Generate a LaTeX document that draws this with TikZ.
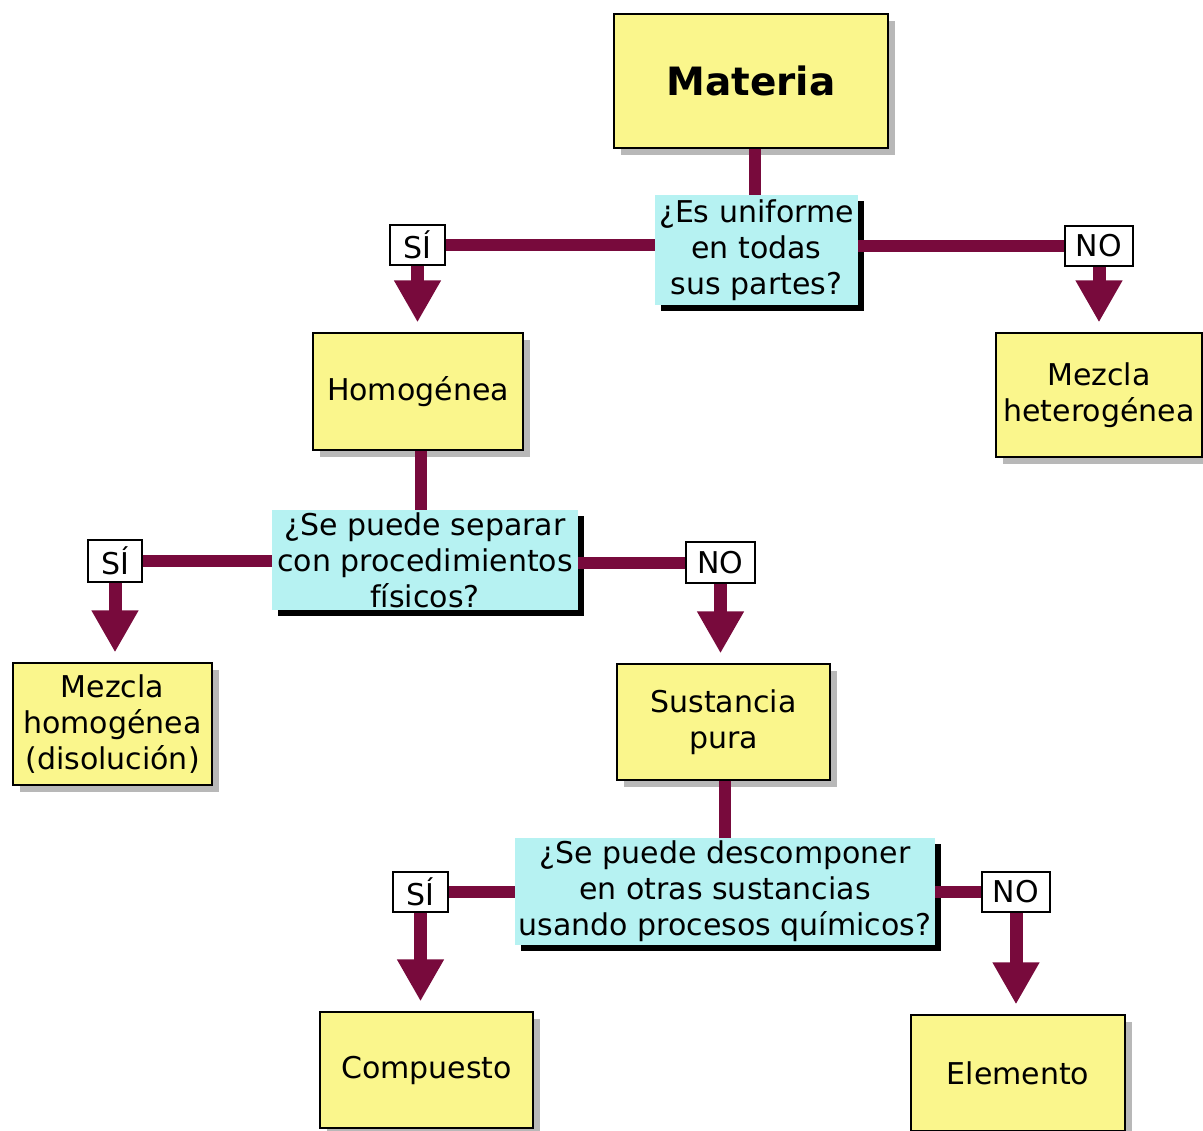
\documentclass[tikz,border=0pt]{standalone}
\usepackage{fontspec}
\setmainfont{DejaVu Sans}
\usetikzlibrary{arrows.meta,shadows}
\definecolor{boxyellow}{RGB}{250,246,140}
\definecolor{qcyan}{RGB}{182,242,242}
\definecolor{linkred}{RGB}{120,10,60}
\begin{document}
\begin{tikzpicture}[x=1pt,y=-1pt,
  ybox/.style={draw=black, line width=1.2pt, fill=boxyellow, align=center,
    inner sep=0pt, font=\fontsize{30}{36}\selectfont,
    drop shadow={shadow xshift=7pt, shadow yshift=-7pt, fill=black!35, opacity=0.8}},
  qbox/.style={fill=qcyan, align=center, inner sep=0pt,
    font=\fontsize{30}{36}\selectfont,
    drop shadow={shadow xshift=6pt, shadow yshift=-6pt, fill=black, opacity=1}},
  ansbox/.style={draw=black, line width=1.2pt, fill=white, inner sep=0pt,
    minimum height=40pt, font=\fontsize{30}{34}\selectfont},
  link/.style={draw=linkred, line width=12pt},
  downarrow/.style={draw=linkred, line width=13pt,
    -{Triangle[width=44pt,length=42pt]}, shorten >=10pt}
]
\useasboundingbox (0,0) rectangle (1203,1131);

% yellow boxes
\node[ybox, minimum width=274pt, minimum height=134pt, font=\fontsize{39}{44}\selectfont\bfseries] (mat) at (751,81) {Materia};
\node[ybox, minimum width=210pt, minimum height=117pt] (hom) at (418,391.5) {Homogénea};
\node[ybox, minimum width=206pt, minimum height=124pt] (het) at (1099,395) {Mezcla\\heterogénea};
\node[ybox, minimum width=199pt, minimum height=122pt] (mhom) at (112.5,724) {Mezcla\\homogénea\\(disolución)};
\node[ybox, minimum width=213pt, minimum height=116pt] (sus) at (723.5,722) {Sustancia\\pura};
\node[ybox, minimum width=213pt, minimum height=116pt] (comp) at (426.5,1070) {Compuesto};
\node[ybox, minimum width=214pt, minimum height=116pt] (elem) at (1018,1073) {Elemento};

% question boxes
\node[qbox, minimum width=203pt, minimum height=110pt] (q1) at (756.5,250) {¿Es uniforme\\en todas\\sus partes?};
\node[qbox, minimum width=306pt, minimum height=100pt] (q2) at (425,560) {¿Se puede separar\\con procedimientos\\físicos?};
\node[qbox, minimum width=420pt, minimum height=107pt] (q3) at (725,891.5) {¿Se puede descomponer\\en otras sustancias\\usando procesos químicos?};

% answer boxes
\node[ansbox, minimum width=55pt] (si1) at (417.5,245) {SÍ};
\node[ansbox, minimum width=68pt] (no1) at (1099,246) {NO};
\node[ansbox, minimum width=54pt, minimum height=42pt] (si2) at (115,561) {SÍ};
\node[ansbox, minimum width=69pt, minimum height=41pt] (no2) at (720.5,562.5) {NO};
\node[ansbox, minimum width=55pt] (si3) at (420.5,892) {SÍ};
\node[ansbox, minimum width=68pt] (no3) at (1016,892) {NO};

% connectors
\draw[link] (mat.south -| 755,0) -- (755,0 |- q1.north);
\draw[link] (si1.east) -- (si1.east -| q1.west);
\draw[link] (no1.west) -- (no1.west -| q1.east);
\draw[downarrow] (si1.south) -- (si1.south |- hom.north);
\draw[downarrow] (no1.south) -- (no1.south |- het.north);

\draw[link] (hom.south -| 421,0) -- (421,0 |- q2.north);
\draw[link] (si2.east) -- (si2.east -| q2.west);
\draw[link] (no2.west) -- (no2.west -| q2.east);
\draw[downarrow] (si2.south) -- (si2.south |- mhom.north);
\draw[downarrow] (no2.south) -- (no2.south |- sus.north);

\draw[link] (sus.south -| 725,0) -- (725,0 |- q3.north);
\draw[link] (si3.east) -- (si3.east -| q3.west);
\draw[link] (no3.west) -- (no3.west -| q3.east);
\draw[downarrow] (si3.south) -- (si3.south |- comp.north);
\draw[downarrow] (no3.south) -- (no3.south |- elem.north);
\end{tikzpicture}
\end{document}
